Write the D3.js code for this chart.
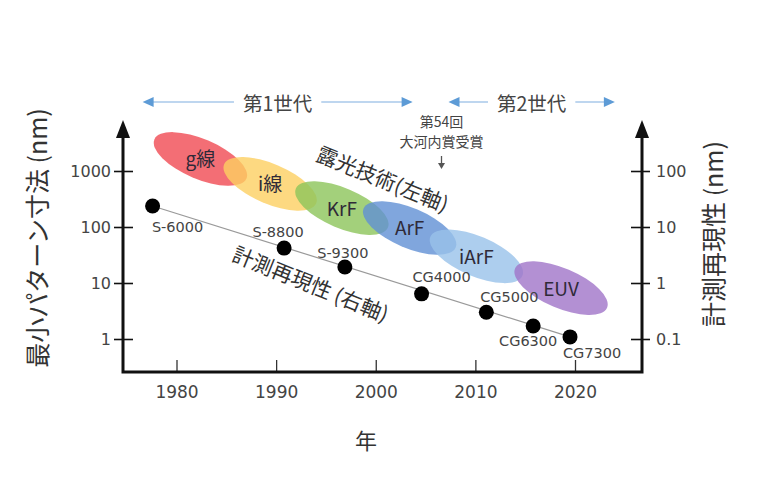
<!DOCTYPE html>
<html>
<head>
<meta charset="utf-8">
<script src="https://cdn.jsdelivr.net/npm/d3@7"></script>
<style>
  body { margin: 0; background: #fff; }
  svg text { font-family: "Noto Sans CJK JP", "DejaVu Sans", sans-serif; }
  .num { font-family: "DejaVu Sans", Verdana, sans-serif; }
</style>
</head>
<body>
<svg id="chart" width="768" height="479"></svg>
<script>
"use strict";

// exposure technologies (left axis, nm)
const techNames = ["g線", "i線", "KrF", "ArF", "iArF", "EUV"];
const techYears = [1982.4, 1989.4, 1996.6, 2003.4, 2010.1, 2018.6];
const techSizes = [1640, 590, 218, 96, 30, 8.1];

// metrology tools (right axis, nm)
const toolNames = ["S-6000", "S-8800", "S-9300", "CG4000", "CG5000", "CG6300", "CG7300"];
const toolYears = [1977.6, 1990.8, 1996.9, 2004.6, 2011.1, 2015.8, 2019.5];
const toolRepro = [23.7, 4.2, 1.93, 0.64, 0.30, 0.171, 0.109];

const yearTicks = [1980, 1990, 2000, 2010, 2020];
const leftTicks = [1, 10, 100, 1000];
const rightTicks = [0.1, 1, 10, 100];

const genNames = ["第1世代", "第2世代"];
const genStart = [1976.6, 2007.3];
const genEnd = [2003.7, 2024.0];

const awardYear = 2006.6;

// styling
const techColors = ["#f04a52", "#fdd062", "#8cc45a", "#6090d4", "#98c2ea", "#a074c8"];
const labelOffsets = {
  "S-6000": [25, 21], "S-8800": [-6, -16], "S-9300": [-2, -14],
  "CG4000": [20, -17], "CG5000": [23, -15], "CG6300": [-5, 15], "CG7300": [22, 16]
};

const svg = d3.select("#chart");

const x = d3.scaleLinear().domain([1980, 2020]).range([176.5, 575]);
const yL = d3.scaleLog().domain([1, 1000]).range([339, 171]);
const yR = d3.scaleLog().domain([0.1, 100]).range([339, 171]);

const axisLeftX = 123, axisRightX = 642, axisBottomY = 372, arrowTipY = 120;

// ellipses
const techs = techNames.map((n, i) => ({ name: n, year: techYears[i], size: techSizes[i], color: techColors[i] }));

svg.selectAll(".tech").data(techs)
  .enter()
  .append("ellipse")
  .attr("class", "tech")
  .attr("cx", 0).attr("cy", 0)
  .attr("rx", 50).attr("ry", 20)
  .attr("transform", d => `translate(${x(d.year)},${yL(d.size)}) rotate(23)`)
  .attr("fill", d => d.color)
  .attr("fill-opacity", 0.8);

svg.selectAll(".techLabel").data(techs)
  .enter()
  .append("text")
  .attr("class", "techLabel")
  .attr("x", d => x(d.year))
  .attr("y", d => yL(d.size) - 1)
  .attr("text-anchor", "middle")
  .attr("dominant-baseline", "central")
  .attr("font-size", 19)
  .attr("fill", "#2f2a38")
  .text(d => d.name);

// trend line through metrology points
const tools = toolNames.map((n, i) => ({ name: n, year: toolYears[i], val: toolRepro[i] }));
const first = tools[0], last = tools[tools.length - 1];
svg.append("line")
  .attr("x1", x(first.year)).attr("y1", yR(first.val))
  .attr("x2", x(last.year)).attr("y2", yR(last.val))
  .attr("stroke", "#9a9a9a")
  .attr("stroke-width", 1.2);

svg.selectAll(".tool").data(tools)
  .enter()
  .append("circle")
  .attr("class", "tool")
  .attr("cx", d => x(d.year))
  .attr("cy", d => yR(d.val))
  .attr("r", 7.5)
  .attr("fill", "#000");

svg.selectAll(".toolLabel").data(tools)
  .enter()
  .append("text")
  .attr("class", "toolLabel num")
  .attr("x", d => x(d.year) + labelOffsets[d.name][0])
  .attr("y", d => yR(d.val) + labelOffsets[d.name][1])
  .attr("text-anchor", "middle")
  .attr("dominant-baseline", "central")
  .attr("font-size", 14.5)
  .attr("fill", "#444")
  .text(d => d.name);

// rotated annotations
svg.append("text")
  .attr("transform", "translate(383,178) rotate(22)")
  .attr("text-anchor", "middle")
  .attr("dominant-baseline", "central")
  .attr("font-size", 21)
  .attr("fill", "#333")
  .text("露光技術(左軸)");

svg.append("text")
  .attr("transform", "translate(311,283) rotate(22)")
  .attr("text-anchor", "middle")
  .attr("dominant-baseline", "central")
  .attr("font-size", 21)
  .attr("fill", "#333")
  .text("計測再現性 (右軸)");

// axes
const gLeft = svg.append("g")
  .attr("transform", `translate(${axisLeftX},0)`)
  .call(d3.axisLeft(yL).tickValues(leftTicks).tickFormat(d3.format("d")).tickSize(9).tickPadding(4));
gLeft.select(".domain").remove();
gLeft.selectAll(".tick line").attr("x2", -9).attr("x1", 10).attr("stroke", "#111").attr("stroke-width", 1.6);
gLeft.selectAll(".tick text").attr("font-size", 16).attr("fill", "#444").attr("x", -12)
  .style("font-family", "'DejaVu Sans', sans-serif");

const gRight = svg.append("g")
  .attr("transform", `translate(${axisRightX},0)`)
  .call(d3.axisRight(yR).tickValues(rightTicks).tickFormat(d => d < 1 ? "0.1" : d3.format("d")(d)).tickSize(9).tickPadding(4));
gRight.select(".domain").remove();
gRight.selectAll(".tick line").attr("x1", -11).attr("x2", 8).attr("stroke", "#111").attr("stroke-width", 1.6);
gRight.selectAll(".tick text").attr("font-size", 16).attr("fill", "#444").attr("x", 14)
  .style("font-family", "'DejaVu Sans', sans-serif");

const gBottom = svg.append("g")
  .attr("transform", `translate(0,${axisBottomY})`)
  .call(d3.axisBottom(x).tickValues(yearTicks).tickFormat(d3.format("d")).tickSize(12).tickPadding(14));
gBottom.select(".domain").remove();
gBottom.selectAll(".tick line").attr("y2", -12).attr("stroke", "#333").attr("stroke-width", 1.3);
gBottom.selectAll(".tick text").attr("font-size", 17).attr("fill", "#444").attr("y", 14).attr("dy", "0.71em")
  .style("font-family", "'DejaVu Sans', sans-serif");

// axis lines with arrows
svg.append("path")
  .attr("d", `M${axisLeftX},${arrowTipY + 14} L${axisLeftX},${axisBottomY} L${axisRightX},${axisBottomY} L${axisRightX},${arrowTipY + 14}`)
  .attr("fill", "none")
  .attr("stroke", "#111")
  .attr("stroke-width", 3);

[axisLeftX, axisRightX].forEach(ax => {
  svg.append("path")
    .attr("d", `M${ax},${arrowTipY} L${ax - 7},${arrowTipY + 18} L${ax + 7},${arrowTipY + 18} Z`)
    .attr("fill", "#111");
});

// axis titles
svg.append("text")
  .attr("transform", "translate(36,238) rotate(-90)")
  .attr("text-anchor", "middle")
  .attr("dominant-baseline", "central")
  .attr("font-size", 25)
  .attr("fill", "#333")
  .text("最小パターン寸法 (nm)");

svg.append("text")
  .attr("transform", "translate(712,234) rotate(-90)")
  .attr("text-anchor", "middle")
  .attr("dominant-baseline", "central")
  .attr("font-size", 25)
  .attr("fill", "#333")
  .text("計測再現性 (nm)");

svg.append("text")
  .attr("x", 366).attr("y", 439)
  .attr("text-anchor", "middle")
  .attr("dominant-baseline", "central")
  .attr("font-size", 22)
  .attr("fill", "#333")
  .text("年");

// generation arrows
const genY = 102;
genNames.forEach((name, i) => {
  const x0 = x(genStart[i]), x1 = x(genEnd[i]);
  const g = svg.append("g");
  g.append("line")
    .attr("x1", x0 + 6).attr("x2", x1 - 6)
    .attr("y1", genY).attr("y2", genY)
    .attr("stroke", "#a9c9ea").attr("stroke-width", 1.3);
  g.append("path")
    .attr("d", `M${x0},${genY} L${x0 + 11},${genY - 5} L${x0 + 11},${genY + 5} Z`)
    .attr("fill", "#5d9bd6");
  g.append("path")
    .attr("d", `M${x1},${genY} L${x1 - 11},${genY - 5} L${x1 - 11},${genY + 5} Z`)
    .attr("fill", "#5d9bd6");
  const cx = (x0 + x1) / 2;
  const t = g.append("text")
    .attr("x", cx).attr("y", genY)
    .attr("text-anchor", "middle")
    .attr("dominant-baseline", "central")
    .attr("font-size", 19.5)
    .attr("fill", "#444")
    .text(name);
  const bb = t.node().getBBox();
  g.insert("rect", "text")
    .attr("x", bb.x - 9).attr("y", bb.y)
    .attr("width", bb.width + 18).attr("height", bb.height)
    .attr("fill", "#fff");
});

// award annotation
const ax = x(awardYear);
svg.append("text")
  .attr("x", ax).attr("y", 121)
  .attr("text-anchor", "middle").attr("dominant-baseline", "central")
  .attr("font-size", 14).attr("fill", "#444")
  .text("第54回");
svg.append("text")
  .attr("x", ax).attr("y", 141)
  .attr("text-anchor", "middle").attr("dominant-baseline", "central")
  .attr("font-size", 14).attr("fill", "#444")
  .text("大河内賞受賞");
svg.append("line")
  .attr("x1", ax).attr("x2", ax).attr("y1", 156).attr("y2", 165)
  .attr("stroke", "#555").attr("stroke-width", 1.3);
svg.append("path")
  .attr("d", `M${ax},${169} L${ax - 3.5},${163} L${ax + 3.5},${163} Z`)
  .attr("fill", "#555");
</script>
</body>
</html>
